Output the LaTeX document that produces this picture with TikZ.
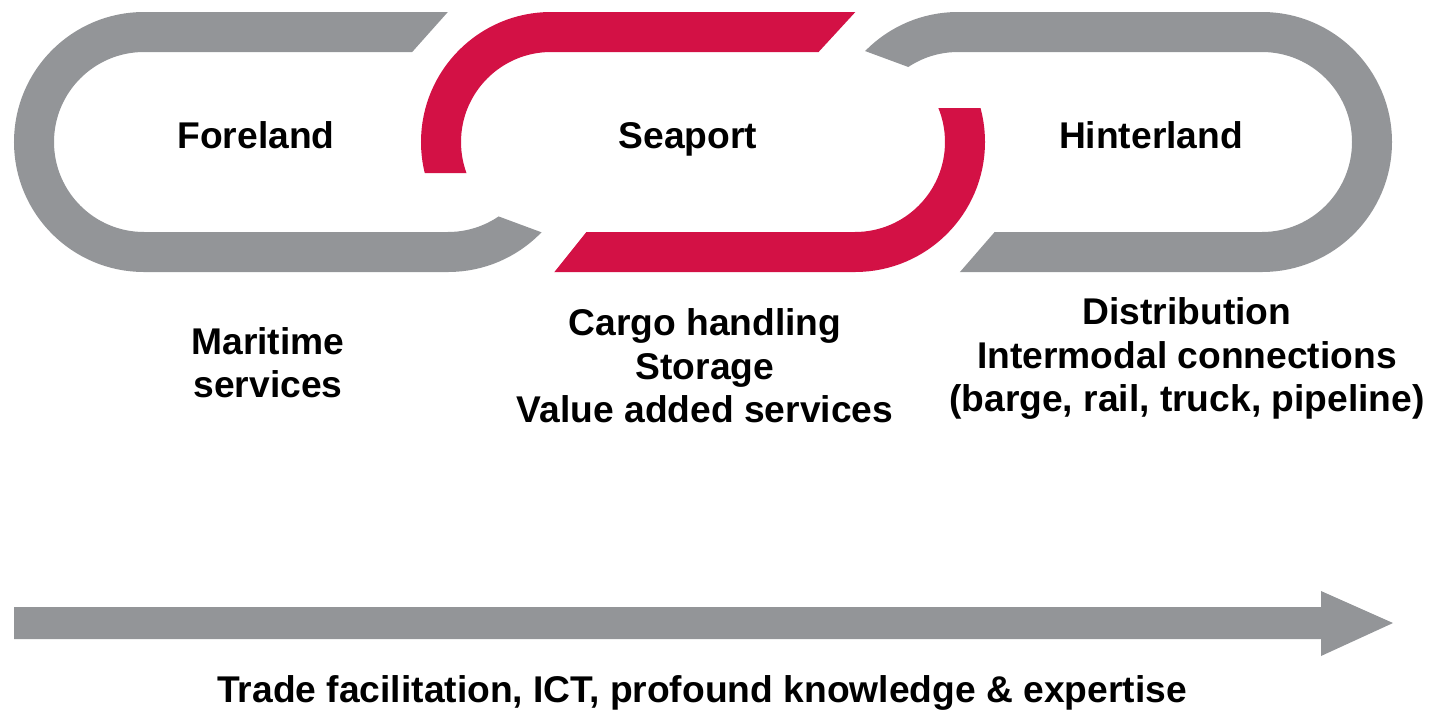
\documentclass[tikz,border=0pt]{standalone}
\usepackage{fontspec}
\setmainfont{Liberation Sans}
\definecolor{chaingray}{RGB}{147,149,152}
\definecolor{chainred}{RGB}{211,17,69}
\begin{document}
\begin{tikzpicture}[x=1pt,y=-1pt,
  lbl/.style={font=\fontsize{37.2}{44}\selectfont\bfseries, inner sep=0pt, anchor=base},
  link/.style={line width=40pt, rounded corners=110pt}]
\useasboundingbox (0,0) rectangle (1432,710);

% left grey link (Foreland)
\begin{scope}
  \clip (-5,-5) -- (463,-5) -- (400.6,65) -- (448,142) -- (457,201) -- (600,254) -- (600,300) -- (-5,300) -- cycle;
  \draw[link, chaingray] (34,32) rectangle (558,252);
\end{scope}

% middle red link (Seaport)
\begin{scope}
  \clip (400,-5) -- (871,-5) -- (802,70) -- (860,108) -- (1000,108) -- (1000,300) -- (532,300) -- (612,200) -- (520,173) -- (400,173) -- cycle;
  \draw[link, chainred] (441,32) rectangle (965,252);
\end{scope}

% right grey link (Hinterland)
\begin{scope}
  \clip (800,-5) -- (1450,-5) -- (1450,310) -- (927,310) -- (1012,212) -- (930,75) -- (800,27) -- cycle;
  \draw[link, chaingray] (848,32) rectangle (1372,252);
\end{scope}

\node[lbl] (foreland) at (256,148) {Foreland};
\node[lbl] (seaport) at (688,148) {Seaport};
\node[lbl] (hinterland) at (1151,148) {Hinterland};

\node[lbl] (mar1) at (268,354) {Maritime};
\node[lbl] (mar2) at (268,397) {services};

\node[lbl] (sea1) at (705,335) {Cargo handling};
\node[lbl] (sea2) at (705,379) {Storage};
\node[lbl] (sea3) at (705,422) {Value added services};

\node[lbl] (hin1) at (1187,324) {Distribution};
\node[lbl] (hin2) at (1187,368) {Intermodal connections};
\node[lbl] (hin3) at (1187,411) {(barge, rail, truck, pipeline)};

\fill[chaingray] (14,607) -- (1321,607) -- (1321,591) -- (1393,623) -- (1321,656) -- (1321,639) -- (14,639) -- cycle;

\node[lbl] (trade) at (702,702) {Trade facilitation, ICT, profound knowledge \& expertise};
\end{tikzpicture}
\end{document}
